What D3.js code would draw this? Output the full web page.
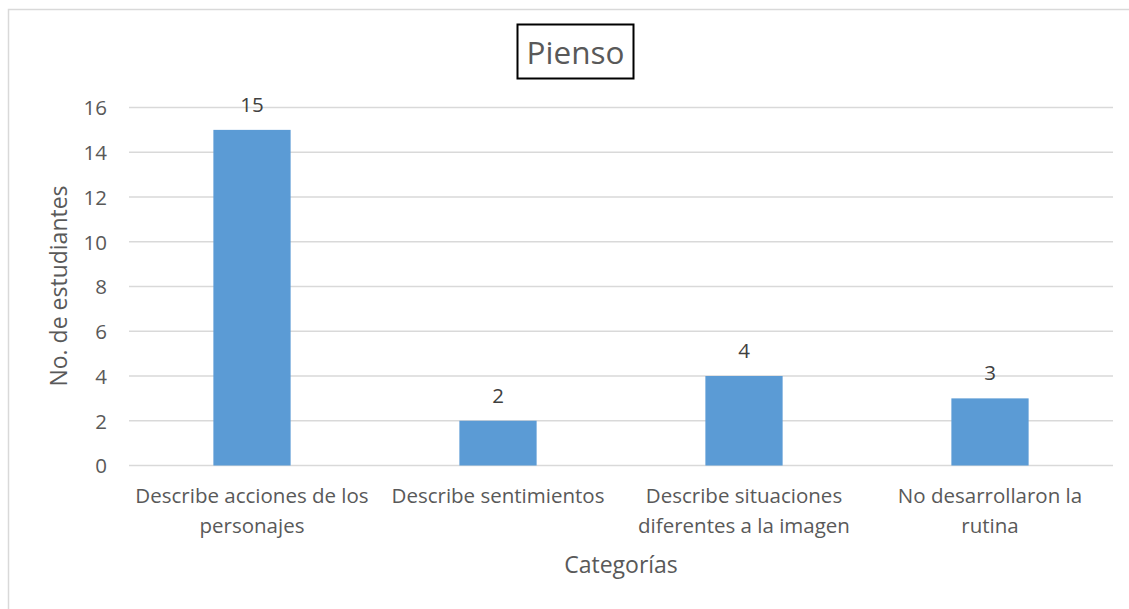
<!DOCTYPE html>
<html>
<head>
<meta charset="utf-8">
<script src="https://cdn.jsdelivr.net/npm/d3@7"></script>
<style>
  html, body { margin: 0; padding: 0; background: #fff; }
  svg { display: block; font-family: "Open Sans", sans-serif; }
</style>
</head>
<body>
<svg id="chart" width="1129" height="609"></svg>
<script>
// Chart data
const categories = [
  ["Describe acciones de los", "personajes"],
  ["Describe sentimientos"],
  ["Describe situaciones", "diferentes a la imagen"],
  ["No desarrollaron la", "rutina"]
];
const values = [15, 2, 4, 3];
const yTicks = [0, 2, 4, 6, 8, 10, 12, 14, 16];
const chartTitle = "Pienso";
const xTitle = "Categorías";
const yTitle = "No. de estudiantes";

const svg = d3.select("#chart");
const textColor = "#595959";
const font = "'Open Sans', sans-serif";

// Outer chart frame
svg.append("rect")
  .attr("x", 8.5).attr("y", 9.5)
  .attr("width", 1140).attr("height", 620)
  .attr("fill", "none").attr("stroke", "#d9d9d9").attr("stroke-width", 1.5);

const plot = { left: 129, right: 1113, top: 107.5, bottom: 465.5 };

const x = d3.scaleBand()
  .domain(d3.range(values.length))
  .range([plot.left, plot.right])
  .paddingInner(0.686).paddingOuter(0.343);

const y = d3.scaleLinear().domain([0, 16]).range([plot.bottom, plot.top]);

// Horizontal gridlines
svg.append("g")
  .selectAll("line")
  .data(yTicks)
  .join("line")
  .attr("x1", plot.left).attr("x2", plot.right)
  .attr("y1", d => y(d)).attr("y2", d => y(d))
  .attr("stroke", "#d9d9d9").attr("stroke-width", 1.3);

// Y axis labels
const yAxis = d3.axisLeft(y).tickValues(yTicks).tickSize(0).tickPadding(0);
const yG = svg.append("g").attr("transform", `translate(${plot.left - 22},0)`).call(yAxis);
yG.select(".domain").remove();
yG.selectAll("text")
  .attr("fill", textColor).attr("font-size", 20.5)
  .attr("font-family", font)
  .attr("dy", "0.36em");

// Bars
svg.append("g")
  .selectAll("rect")
  .data(values)
  .join("rect")
  .attr("x", (d, i) => x(i))
  .attr("width", x.bandwidth())
  .attr("y", d => y(d))
  .attr("height", d => y(0) - y(d))
  .attr("fill", "#5b9bd5");

// Value labels
svg.append("g")
  .selectAll("text")
  .data(values)
  .join("text")
  .attr("x", (d, i) => x(i) + x.bandwidth() / 2)
  .attr("y", d => y(d) - 18)
  .attr("text-anchor", "middle")
  .attr("fill", "#404040").attr("font-size", 20.5)
  .text(d => d);

// Category labels (wrapped)
const catG = svg.append("g");
categories.forEach((lines, i) => {
  const t = catG.append("text")
    .attr("x", x(i) + x.bandwidth() / 2)
    .attr("y", 503)
    .attr("text-anchor", "middle")
    .attr("fill", textColor).attr("font-size", 20.5);
  lines.forEach((ln, j) => {
    t.append("tspan")
      .attr("x", x(i) + x.bandwidth() / 2)
      .attr("dy", j === 0 ? 0 : 30)
      .text(ln);
  });
});

// Axis titles
svg.append("text")
  .attr("x", 621).attr("y", 573)
  .attr("text-anchor", "middle")
  .attr("fill", textColor).attr("font-size", 23)
  .text(xTitle);

svg.append("text")
  .attr("transform", "translate(67,286) rotate(-90)")
  .attr("text-anchor", "middle")
  .attr("fill", textColor).attr("font-size", 23)
  .text(yTitle);

// Boxed title
svg.append("rect")
  .attr("x", 517.5).attr("y", 24.5)
  .attr("width", 116).attr("height", 54)
  .attr("fill", "#fff").attr("stroke", "#000").attr("stroke-width", 2);
svg.append("text")
  .attr("x", 575.5).attr("y", 64)
  .attr("text-anchor", "middle")
  .attr("fill", textColor).attr("font-size", 31.5)
  .text(chartTitle);
</script>
</body>
</html>
